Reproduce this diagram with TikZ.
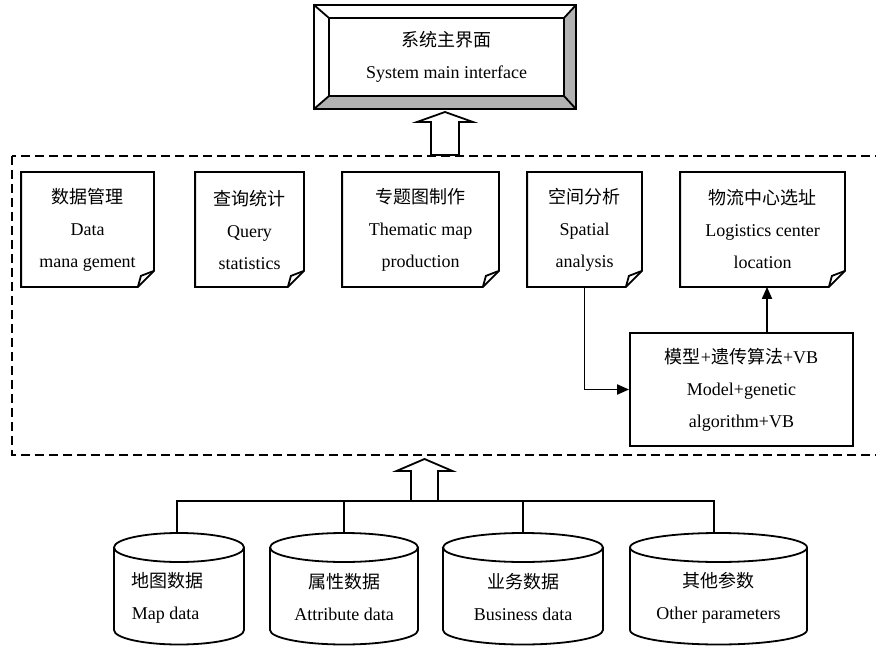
\documentclass[tikz,border=0pt]{standalone}
\usepackage{fontspec}
\setmainfont{Liberation Serif}
\newfontfamily\cjk{Noto Sans CJK SC}
\usetikzlibrary{arrows.meta}

\newcommand{\hollowup}[6]{% x, y bottom, y tip, half shaft, half head, head height
  \draw[fill=white] (#1-#4,#2) -- (#1-#4,#3+#6) -- (#1-#5,#3+#6) -- (#1,#3)
    -- (#1+#5,#3+#6) -- (#1+#4,#3+#6) -- (#1+#4,#2) -- cycle;}

\tikzset{
  txt/.style={align=center, inner sep=0pt, font=\fontsize{9}{16}\selectfont},
  notebox/.style={txt, minimum height=56.5pt},
  modelbox/.style={txt, draw, minimum width=111.5pt, minimum height=56.5pt},
  band/.style={fill=black!30},
}

\begin{document}
\begin{tikzpicture}[x=0.5pt, y=-0.5pt, line width=0.9pt, line join=miter]
	\useasboundingbox (0,0) rectangle (876,646);

	% main interface (bevelled button)
	\node[txt, minimum width=116.5pt, minimum height=38pt] (ui) at (446.5,57) {{\cjk 系统主界面}\\System main interface};
	\coordinate (onw) at ([shift={(-15,-13)}]ui.north west);
	\coordinate (one) at ([shift={(12,-13)}]ui.north east);
	\coordinate (ose) at ([shift={(12,13)}]ui.south east);
	\coordinate (osw) at ([shift={(-15,13)}]ui.south west);
	\path[band] (osw) -- (ui.south west) -- (ui.south east) -- (ose) -- cycle;
	\path[band] (ui.north east) -- (one) -- (ose) -- (ui.south east) -- cycle;
	\draw (onw) rectangle (ose);
	\draw (ui.north west) rectangle (ui.south east);
	\draw (onw) -- (ui.north west) (one) -- (ui.north east) (ose) -- (ui.south east) (osw) -- (ui.south west);

	\hollowup{445}{155}{112}{14}{28}{10}

	% function modules
	\draw[dash pattern=on 4.5pt off 2.5pt] (12,156) rectangle (884,455);

	\node[notebox, minimum width=65.5pt] (dm) at (87.5,229.5) {{\cjk 数据管理}\\Data\\mana gement};
	\node[notebox, minimum width=53.5pt] (qs) at (249.5,229.5) {{\cjk 查询统计}\\Query\\statistics};
	\node[notebox, minimum width=77.5pt] (tm) at (420.5,229.5) {{\cjk 专题图制作}\\Thematic map\\production};
	\node[notebox, minimum width=56.5pt] (sa) at (584.5,229.5) {{\cjk 空间分析}\\Spatial\\analysis};
	\node[notebox, minimum width=81.5pt] (lc) at (762.5,229.5) {{\cjk 物流中心选址}\\Logistics center\\location};

	\foreach \n in {dm,qs,tm,sa,lc}
	{
	\draw (\n.north west) -- (\n.north east) -- ([yshift=8pt]\n.south east) -- ([xshift=-8pt]\n.south east) -- (\n.south west) -- cycle;
	\draw ([xshift=-8pt]\n.south east) -- ([xshift=-6.5pt,yshift=5.5pt]\n.south east) -- ([yshift=8pt]\n.south east);
}

	\node[modelbox] (model) at (741.5,389.5) {{\cjk 模型}+{\cjk 遗传算法}+VB\\Model+genetic\\algorithm+VB};

	\draw[-{Triangle[length=6pt,width=5pt]}] (sa.south) |- (model.west);
	\draw[-{Triangle[length=6pt,width=5pt]}] (model.north -| 767,0) -- (lc.south -| 767,0);

	% data sources
	\hollowup{424.5}{501}{459}{13.5}{28}{12}

	\coordinate (t1) at (177,533);
	\coordinate (t2) at (344,533);
	\coordinate (t3) at (523,533);
	\coordinate (t4) at (714,533);
	\draw (t1) -- (177,501) -- (714,501) -- (t4);
	\draw (t2) -- (344,501);
	\draw (t3) -- (523,501);

	\foreach \cx/\rx in {179/32.5, 344/37, 523/40, 718.5/44.25}
	{
	\draw (\cx-2*\rx,547.5) -- (\cx-2*\rx,630) arc (180:360:\rx pt and 7.25pt) -- (\cx+2*\rx,547.5);
	\draw (\cx,547.5) ellipse (\rx pt and 7.25pt);
}

	\node[txt, align=left, anchor=west] (md) at (131,597.5) {{\cjk 地图数据}\\Map data};
	\node[txt] (ad) at (344,597.5) {{\cjk 属性数据}\\Attribute data};
	\node[txt] (bd) at (523,597.5) {{\cjk 业务数据}\\Business data};
	\node[txt] (op) at (718.5,597.5) {{\cjk 其他参数}\\Other parameters};

\end{tikzpicture}
\end{document}
